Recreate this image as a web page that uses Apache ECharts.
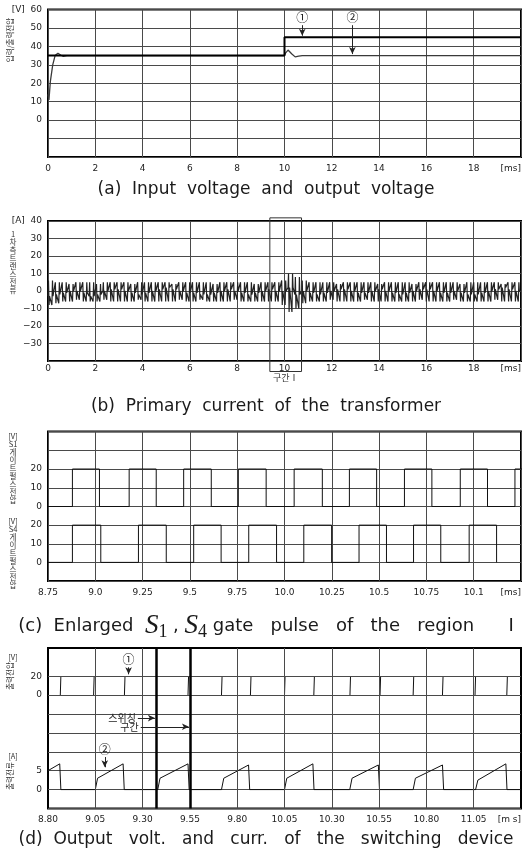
<!DOCTYPE html>
<html>
<head>
<meta charset="utf-8">
<script src="https://cdn.jsdelivr.net/npm/echarts@6/dist/echarts.min.js"></script>
<style>
  html, body { margin: 0; padding: 0; background: #fff; }
  #main { width: 531px; height: 857px; }
</style>
</head>
<body>
<div id="main"></div>
<script>
// (a) 입력/출력전압 [ms, V]
const inVolt = [[0, 35], [10, 35], [10, 45], [20, 45]];
const outVolt = [[0, 14], [0.04, 11], [0.1, 21], [0.2, 30], [0.3, 35], [0.42, 36.3], [0.55, 35.2], [0.65, 34.6], [0.8, 35],
  [10, 35], [10.05, 36.5], [10.15, 38], [10.3, 36], [10.45, 34.3], [10.6, 34.7], [10.75, 35], [15, 35], [20, 35]];

// (b) 1차측 트랜스 전류: 스위칭 주기마다 +/- 피크와 그 사이 기저값 [A]
const ipStep = 0.29;
const ipPos = [6, 5, 5, 4, 5, 5, 5, 4, 5, 5,
  5, 5, 4, 5, 5, 5, 5, 5, 4, 5,
  5, 5, 5, 5, 4, 5, 5, 5, 5, 5,
  4, 5, 5, 5, 6, 10, 8, 6, 5, 5,
  5, 5, 4, 5, 5, 5, 5, 5, 4, 5,
  5, 5, 5, 4, 5, 5, 5, 5, 5, 5,
  4, 5, 5, 5, 5, 5, 4, 5, 5];
const ipNeg = [-8, -7, -6, -6, -5, -6, -6, -6, -5, -6,
  -6, -6, -6, -5, -6, -6, -6, -6, -6, -5,
  -6, -6, -5, -6, -6, -6, -6, -5, -6, -6,
  -6, -6, -6, -6, -8, -12, -10, -7, -6, -6,
  -6, -5, -6, -6, -6, -6, -5, -6, -6, -6,
  -6, -6, -6, -6, -5, -6, -6, -6, -6, -5,
  -6, -6, -6, -6, -6, -5, -6, -6, -6];
const ipBase = [-3, -2, -1, 0, 0, -1, -3, -2, 0, 1,
  1, 0, -1, -2, -1, 0, 1, 2, 1, 0,
  -1, -1, -2, -2, -1, 0, 1, 0, -1, -2,
  -1, 0, 1, 0, 0, 2, -2, 0, -1, -2,
  -1, 0, 1, 1, 0, -1, -1, 0, 1, 0,
  -1, -2, -1, 0, 1, 1, 0, -1, -1, 0,
  -1, -2, -2, -1, 0, 1, 2, 1, 0];
const regionI = [9.38, 10.72];

// (c) S1, S4 게이트 펄스 상승/하강 시각 [ms]
const s1Rise = [8.879, 9.179, 9.467, 9.756, 10.051, 10.343, 10.634, 10.929, 11.218];
const s1Fall = [9.022, 9.322, 9.613, 9.903, 10.200, 10.487, 10.779, 11.073, 11.36];
const s4Rise = [8.879, 9.228, 9.520, 9.811, 10.102, 10.394, 10.682, 10.976];
const s4Fall = [9.029, 9.375, 9.665, 9.958, 10.249, 10.539, 10.826, 11.121];
const gateHigh = 20;
const cXLabels = {'8.75': '8.75', '9.00': '9.0', '9.25': '9.25', '9.50': '9.5', '9.75': '9.75', '10.00': '10.0',
  '10.25': '10.25', '10.50': '10.5', '10.75': '10.75', '11.00': '10.1', '11.25': '[ms]'};

// (d) 스위칭 소자 출력전압 / 출력전류
const swEdges = [8.865, 9.041, 9.204, 9.540, 9.717, 9.870, 10.050, 10.205, 10.396, 10.555, 10.730, 10.885, 11.057, 11.225];
const swHigh = 20;
const curOn = [9.05, 9.38, 9.717, 10.05, 10.395, 10.73, 11.06];
const curOnVal = [3, 3, 3, 3, 3, 3, 2.5];
const curPeakT = [9.197, 9.54, 9.86, 10.20, 10.546, 10.885, 11.22];
const curPeakVal = [6.8, 6.8, 6.5, 6.8, 6.5, 6.5, 6.8];
const curFirst = [[8.80, 5], [8.862, 6.8], [8.868, 0]];
const dTicks = [9.05, 9.30, 9.55, 9.80, 10.05, 10.30, 10.55, 10.80, 11.05];
const dXLabels = {'8.80': '8.80', '9.05': '9.05', '9.30': '9.30', '9.55': '9.55', '9.80': '9.80', '10.05': '10.05',
  '10.30': '10.30', '10.55': '10.55', '10.80': '10.80', '11.05': '11.05', '11.30': '[m s]'};
const switchLines = [9.373, 9.55];

// 데이터 -> 시리즈 좌표
let ipData = [];
for (let k = 0; k < ipPos.length; k++) {
  const t = k * ipStep, h = ipStep / 2, b = ipBase[k];
  ipData.push([t, b], [t + 0.02, ipPos[k]], [t + 0.045, ipNeg[k]], [t + 0.065, b],
    [t + h, b], [t + h + 0.02, ipNeg[k]], [t + h + 0.045, ipPos[k]], [t + h + 0.065, b]);
}
ipData.push([20, ipBase[ipBase.length - 1]]);

function pulses(rise, fall, start) {
  let d = [[start, 0]];
  for (let i = 0; i < rise.length; i++) {
    d.push([rise[i], 0], [rise[i], gateHigh], [fall[i], gateHigh], [fall[i], 0]);
  }
  return d;
}
const s1Data = pulses(s1Rise, s1Fall, 8.75);
const s4Data = pulses(s4Rise, s4Fall, 8.75);

let swData = [];
swEdges.forEach(t => { swData.push([t, 0], [t + 0.003, swHigh], [t, null]); });

let curData = curFirst.slice();
for (let i = 0; i < curOn.length; i++) {
  curData.push([curOn[i], 0], [curOn[i] + 0.012, curOnVal[i]], [curPeakT[i], curPeakVal[i]], [curPeakT[i] + 0.006, 0]);
}
curData.push([11.3, 0]);

const gridColor = '#4a4a4a';
const labelFont = {fontSize: 9, color: '#222', fontFamily: 'DejaVu Sans'};
const korFont = '"Noto Sans CJK KR"';

function xAx(grid, min, max, interval, fmt, split, margin) {
  return {
    type: 'value', gridIndex: grid, min: min, max: max, interval: interval,
    axisLine: {show: false}, axisTick: {show: false},
    axisLabel: Object.assign({show: !!fmt, margin: margin || 7, formatter: fmt, alignMaxLabel: 'right', showMinLabel: true, showMaxLabel: true}, labelFont),
    splitLine: {show: split !== false, lineStyle: {color: gridColor, width: 1}}
  };
}
function yAx(grid, min, max, interval, fmt, split) {
  return {
    type: 'value', gridIndex: grid, min: min, max: max, interval: interval,
    axisLine: {show: false}, axisTick: {show: false},
    axisLabel: Object.assign({show: !!fmt, margin: 6, formatter: fmt, showMinLabel: true, showMaxLabel: true}, labelFont),
    splitLine: {show: split !== false, lineStyle: {color: gridColor, width: 1}}
  };
}
function hidden(grid) {
  return {type: 'value', gridIndex: grid, show: false, min: 0, max: 1};
}
function arrow(from, to, text, size) {
  return [
    {coord: from, symbol: 'none', lineStyle: {color: '#222', width: 1, type: 'solid'},
      label: {show: true, position: 'start', formatter: text, distance: 2, fontSize: size || 12, color: '#222', fontFamily: korFont}},
    {coord: to, symbol: 'arrow', symbolSize: [5, 7]}
  ];
}

const aY = {'60': '[V]  60', '50': '50', '40': '40', '30': '30', '20': '20', '10': '10', '0': '0'};
const bY = {'40': '[A]  40', '30': '30', '20': '20', '10': '10', '0': '0', '-10': '−10', '-20': '−20', '-30': '−30'};
const abX = v => (v === 20 ? '[ms]' : String(v));
const frame = {show: true, borderColor: '#000', borderWidth: 2, backgroundColor: 'transparent'};

let chart = echarts.init(document.getElementById('main'));
chart.setOption({
  animation: false,
  backgroundColor: '#fff',
  grid: [
    Object.assign({left: 48, top: 9.5, width: 473, height: 147.5}, frame),
    Object.assign({left: 48, top: 221, width: 473, height: 140}, frame),
    {left: 48, top: 431.5, width: 473, height: 75},
    {left: 48, top: 506.5, width: 473, height: 74.5},
    Object.assign({left: 48, top: 431.5, width: 473, height: 149.5}, frame),
    {left: 48, top: 648, width: 473, height: 47},
    {left: 48, top: 695, width: 473, height: 113.5},
    Object.assign({left: 48, top: 648, width: 473, height: 160.5}, frame)
  ],
  xAxis: [
    xAx(0, 0, 20, 2, abX),
    xAx(1, 0, 20, 2, abX, true, 3),
    xAx(2, 8.75, 11.25, 0.25, null),
    xAx(3, 8.75, 11.25, 0.25, v => cXLabels[v.toFixed(2)] || ''),
    hidden(4),
    xAx(5, 8.8, 11.3, 0.05, null, false),
    xAx(6, 8.8, 11.3, 0.05, v => dXLabels[v.toFixed(2)] || '', false),
    hidden(7)
  ],
  yAxis: [
    yAx(0, -20, 60, 10, v => aY[String(v)] || ''),
    yAx(1, -40, 40, 10, v => bY[String(v)] || ''),
    yAx(2, 0, 40, 10, v => (v <= 20 ? String(v) : '')),
    yAx(3, -10, 30, 10, v => (v >= 0 && v <= 20 ? String(v) : '')),
    hidden(4),
    yAx(5, 0, 50, 10, v => (v === 0 || v === 20 ? String(v) : ''), false),
    yAx(6, -5, 25, 5, v => (v === 0 || v === 5 ? String(v) : '')),
    hidden(7)
  ],
  series: [
    {
      type: 'line', xAxisIndex: 0, yAxisIndex: 0, data: outVolt, showSymbol: false, symbol: 'none',
      lineStyle: {color: '#3a3a3a', width: 1.3}, z: 3
    },
    {
      type: 'line', xAxisIndex: 0, yAxisIndex: 0, data: inVolt, showSymbol: false, symbol: 'none',
      lineStyle: {color: '#000', width: 2}, z: 4,
      markLine: {silent: true, symbol: ['none', 'none'], animation: false,
        data: [arrow([10.75, 51.5], [10.75, 45.8], '①'), arrow([12.87, 51.5], [12.87, 35.8], '②')]}
    },
    {
      type: 'line', xAxisIndex: 1, yAxisIndex: 1, data: ipData, showSymbol: false, symbol: 'none',
      lineStyle: {color: '#222', width: 1.2}
    },
    {
      type: 'line', xAxisIndex: 2, yAxisIndex: 2, data: s1Data, showSymbol: false, symbol: 'none',
      lineStyle: {color: '#111', width: 1}
    },
    {
      type: 'line', xAxisIndex: 3, yAxisIndex: 3, data: s4Data, showSymbol: false, symbol: 'none',
      lineStyle: {color: '#111', width: 1}
    },
    {
      type: 'line', xAxisIndex: 5, yAxisIndex: 5, data: swData, showSymbol: false, symbol: 'none',
      connectNulls: false, lineStyle: {color: '#111', width: 1},
      markLine: {silent: true, symbol: ['none', 'none'], animation: false, label: {show: false},
        data: dTicks.map(v => ({xAxis: v, lineStyle: {color: gridColor, width: 1, type: 'solid'}}))
          .concat([{yAxis: 20, lineStyle: {color: gridColor, width: 1, type: 'solid'}}])
          .concat(switchLines.map(v => ({xAxis: v, lineStyle: {color: '#000', width: 2.5, type: 'solid'}})))
          .concat([arrow([9.226, 29.5], [9.226, 22], '①')])}
    },
    {
      type: 'line', xAxisIndex: 6, yAxisIndex: 6, data: curData, showSymbol: false, symbol: 'none',
      lineStyle: {color: '#111', width: 1},
      markLine: {silent: true, symbol: ['none', 'none'], animation: false, label: {show: false},
        data: dTicks.map(v => ({xAxis: v, lineStyle: {color: gridColor, width: 1, type: 'solid'}}))
          .concat(switchLines.map(v => ({xAxis: v, lineStyle: {color: '#000', width: 2.5, type: 'solid'}})))
          .concat([arrow([9.10, 8.6], [9.10, 5.9], '②'),
            arrow([9.275, 18.9], [9.365, 18.9], '스위칭', 10),
            arrow([9.29, 16.6], [9.545, 16.6], '구간', 10)])}
    }
  ]
});

// 구간 I 박스 (축 좌표 -> 픽셀)
const b1 = chart.convertToPixel({xAxisIndex: 1, yAxisIndex: 1}, [regionI[0], 41.8]);
const b2 = chart.convertToPixel({xAxisIndex: 1, yAxisIndex: 1}, [regionI[1], -46]);

function vtext(x, y, text, rot) {
  return {type: 'text', x: x, y: y, rotation: rot ? Math.PI / 2 : 0, z: 10,
    style: {text: text, fill: '#333', font: '7.5px ' + korFont, textAlign: 'center', textVerticalAlign: 'middle', lineHeight: 8}};
}
function caption(y, text, size) {
  return {type: 'text', x: 266, y: y, z: 10,
    style: {text: text, fill: '#1a1a1a', font: (size || 17) + 'px "DejaVu Sans"', textAlign: 'center', textVerticalAlign: 'middle'}};
}

chart.setOption({
  graphic: [
    {type: 'rect', z: 10, shape: {x: b1[0], y: b1[1], width: b2[0] - b1[0], height: b2[1] - b1[1]},
      style: {fill: 'none', stroke: '#333', lineWidth: 1}},
    {type: 'text', x: (b1[0] + b2[0]) / 2, y: b2[1] + 6, z: 10,
      style: {text: '구간Ⅰ', fill: '#333', font: '9px ' + korFont, textAlign: 'center', textVerticalAlign: 'middle'}},
    vtext(10, 40, '입력/출력전압', true),
    vtext(13, 262, '1\n차\n측\n트\n랜\n스\n전\n류'),
    vtext(13, 468, '[V]\nS1\n게\n이\n트\n펄\n스\n전\n압'),
    vtext(13, 553, '[V]\nS4\n게\n이\n트\n펄\n스\n전\n압'),
    vtext(13, 657, '[V]'),
    vtext(10, 676, '출력전압', true),
    vtext(13, 756, '[A]'),
    vtext(10, 776, '출력전류', true),
    caption(190, '(a)  Input  voltage  and  output  voltage'),
    caption(407, '(b)  Primary  current  of  the  transformer'),
    {type: 'text', x: 266, y: 626, z: 10,
      style: {text: '{n|(c)  Enlarged  }{s|S}{b|1}{n| , }{s|S}{b|4}{n| gate   pulse   of   the   region      Ⅰ}',
        textAlign: 'center', textVerticalAlign: 'middle', fill: '#1a1a1a',
        rich: {
          n: {fontSize: 18, fontFamily: 'DejaVu Sans', lineHeight: 30, verticalAlign: 'middle'},
          s: {fontSize: 27, fontFamily: 'Liberation Serif', fontStyle: 'italic', lineHeight: 30, verticalAlign: 'middle'},
          b: {fontSize: 18, fontFamily: 'Liberation Serif', lineHeight: 30, verticalAlign: 'bottom'}
        }}},
    caption(840, '(d)  Output   volt.   and   curr.   of   the   switching   device', 17)
  ]
});
</script>
</body>
</html>
